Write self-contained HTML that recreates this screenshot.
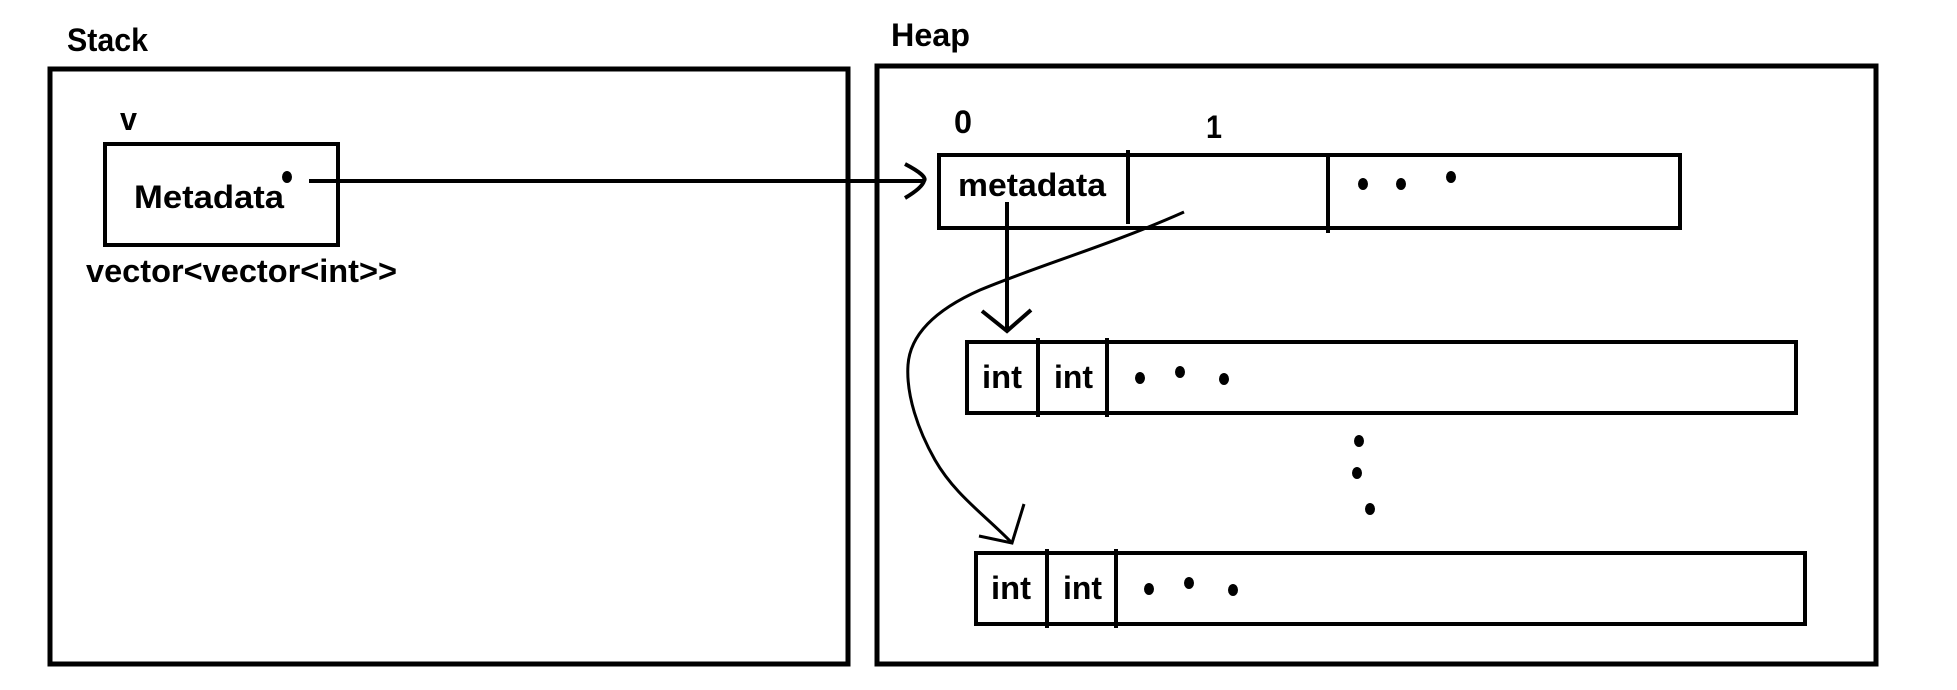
<!DOCTYPE html>
<html><head><meta charset="utf-8"><style>html,body{margin:0;padding:0;background:#fff;}svg{display:block}</style></head>
<body>
<svg width="1957" height="690" viewBox="0 0 1957 690" xmlns="http://www.w3.org/2000/svg" font-family="'Liberation Sans', sans-serif" font-weight="bold" fill="#000">
<rect width="1957" height="690" fill="#fff"/>
<g fill="none" stroke="#000" stroke-width="5">
<rect x="50" y="69" width="798" height="595"/>
<rect x="877" y="66" width="999" height="598"/>
</g>
<g fill="none" stroke="#000" stroke-width="4">
<rect x="105" y="144" width="233" height="101"/>
<rect x="939" y="155" width="741" height="73"/>
<line x1="1128" y1="150" x2="1128" y2="224"/>
<line x1="1328" y1="156" x2="1328" y2="233"/>
<rect x="967" y="342" width="829" height="71"/>
<line x1="1038" y1="338" x2="1038" y2="417"/>
<line x1="1107" y1="338" x2="1107" y2="417"/>
<rect x="976" y="553" width="829" height="71"/>
<line x1="1047" y1="549" x2="1047" y2="628"/>
<line x1="1116" y1="549" x2="1116" y2="628"/>
<line x1="309" y1="181" x2="924" y2="181"/>
<path d="M905,164 Q928,176 924,181 Q922,188 905,198"/>
<line x1="1007" y1="202" x2="1007" y2="331"/>
<polyline points="982,311 1007,331 1031,310"/>
</g>
<g fill="none" stroke="#000" stroke-width="3">
<path d="M1184,212 C1110,245 1040,265 980,290 C935,310 910,335 908,365 C906,395 918,430 935,460 C955,495 985,515 1012,543"/>
<polyline points="979,536 1012,543 1024,504"/>
</g>
<g fill="#000">
<ellipse cx="287" cy="177" rx="5" ry="6"/>
<ellipse cx="1363" cy="184" rx="5" ry="6"/>
<ellipse cx="1401" cy="184" rx="5" ry="6"/>
<ellipse cx="1451" cy="177" rx="5" ry="6"/>
<ellipse cx="1140" cy="378" rx="5" ry="6"/>
<ellipse cx="1180" cy="372" rx="5" ry="6"/>
<ellipse cx="1224" cy="379" rx="5" ry="6"/>
<ellipse cx="1359" cy="441" rx="5" ry="6"/>
<ellipse cx="1357" cy="473" rx="5" ry="6"/>
<ellipse cx="1370" cy="509" rx="5" ry="6"/>
<ellipse cx="1149" cy="589" rx="5" ry="6"/>
<ellipse cx="1189" cy="583" rx="5" ry="6"/>
<ellipse cx="1233" cy="590" rx="5" ry="6"/>
</g>
<g font-size="32">
<text x="67" y="51" textLength="81" lengthAdjust="spacingAndGlyphs">Stack</text>
<text x="891" y="46" textLength="79" lengthAdjust="spacingAndGlyphs">Heap</text>
<text x="120" y="130" textLength="17" lengthAdjust="spacingAndGlyphs">v</text>
<text x="134" y="208" textLength="150" lengthAdjust="spacingAndGlyphs">Metadata</text>
<text x="86" y="282" textLength="311" lengthAdjust="spacingAndGlyphs">vector&lt;vector&lt;int&gt;&gt;</text>
<text x="954" y="133" textLength="18" lengthAdjust="spacingAndGlyphs">0</text>
<text x="1206" y="138" textLength="16" lengthAdjust="spacingAndGlyphs">1</text>
<text x="958" y="196" textLength="148" lengthAdjust="spacingAndGlyphs">metadata</text>
<text x="982" y="388" textLength="40" lengthAdjust="spacingAndGlyphs">int</text>
<text x="1054" y="388" textLength="39" lengthAdjust="spacingAndGlyphs">int</text>
<text x="991" y="599" textLength="40" lengthAdjust="spacingAndGlyphs">int</text>
<text x="1063" y="599" textLength="39" lengthAdjust="spacingAndGlyphs">int</text>
</g>
</svg>
</body></html>
